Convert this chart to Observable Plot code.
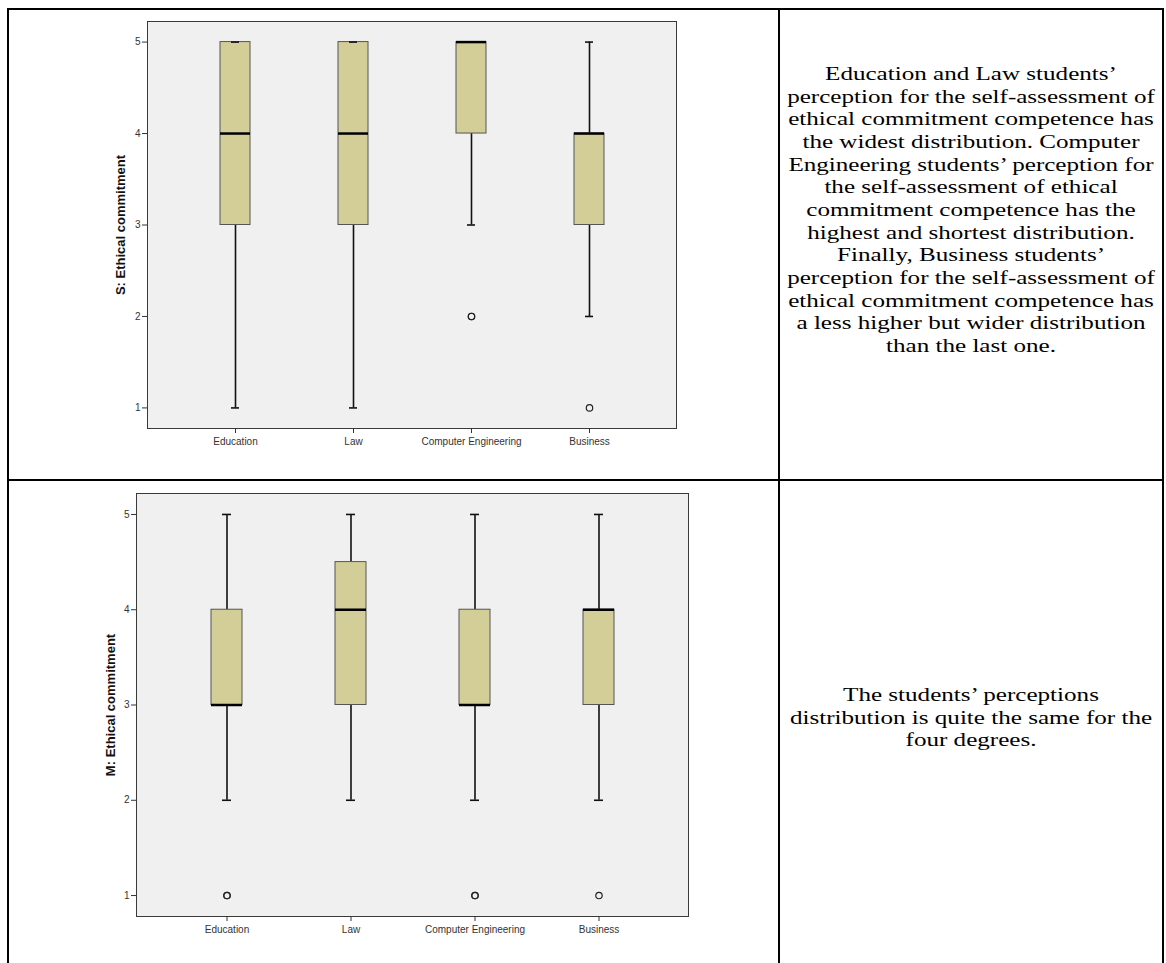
<!DOCTYPE html>
<html><head><meta charset="utf-8">
<script src="https://cdn.jsdelivr.net/npm/d3@7"></script>
<script src="https://cdn.jsdelivr.net/npm/@observablehq/plot@0.6"></script>
<style>
body{margin:0;background:#fff;width:1166px;height:963px;overflow:hidden;position:relative;}
.bline{position:absolute;background:#000;z-index:5;}
.chart{position:absolute;}
.txt{position:absolute;font-family:"Liberation Serif","Times New Roman",serif;font-size:19px;line-height:22.67px;text-align:center;color:#000;white-space:nowrap;}
.txt div{transform:scaleX(1.32);transform-origin:50% 50%;}
</style></head><body>
<div id="c1" class="chart" style="left:0;top:0"></div>
<div id="c2" class="chart" style="left:0;top:480px"></div>
<div id="t1" class="txt" style="left:780px;width:382px;top:63px"></div>
<div id="t2" class="txt" style="left:780px;width:382px;top:684px"></div>
<div class="bline" style="left:7px;top:8px;width:1157px;height:2px"></div>
<div class="bline" style="left:7px;top:8px;width:2px;height:960px"></div>
<div class="bline" style="left:1162px;top:8px;width:2px;height:960px"></div>
<div class="bline" style="left:778px;top:8px;width:2px;height:960px"></div>
<div class="bline" style="left:7px;top:479px;width:1157px;height:2px"></div>
<script>
const categories = ["Education", "Law", "Computer Engineering", "Business"];
const yTicks = [1, 2, 3, 4, 5];

// S: Ethical commitment
const sTitle = "S: Ethical commitment";
const sLow = [1, 1, 3, 2];
const sQ1 = [3, 3, 4, 3];
const sMedian = [4, 4, 5, 4];
const sQ3 = [5, 5, 5, 4];
const sHigh = [5, 5, 5, 5];
const sOutlierCats = ["Computer Engineering", "Computer Engineering", "Business"];
const sOutlierValues = [2, 2, 1];

// M: Ethical commitment
const mTitle = "M: Ethical commitment";
const mLow = [2, 2, 2, 2];
const mQ1 = [3, 3, 3, 3];
const mMedian = [3, 4, 3, 4];
const mQ3 = [4, 4.5, 4, 4];
const mHigh = [5, 5, 5, 5];
const mOutlierCats = ["Education", "Education", "Computer Engineering", "Computer Engineering", "Business"];
const mOutlierValues = [1, 1, 1, 1, 1];

const topText = [
  "Education and Law students\u2019",
  "perception for the self-assessment of",
  "ethical commitment competence has",
  "the widest distribution. Computer",
  "Engineering students\u2019 perception for",
  "the self-assessment of ethical",
  "commitment competence has the",
  "highest and shortest distribution.",
  "Finally, Business students\u2019",
  "perception for the self-assessment of",
  "ethical commitment competence has",
  "a less higher but wider distribution",
  "than the last one."
];
const bottomText = [
  "The students\u2019 perceptions",
  "distribution is quite the same for the",
  "four degrees."
];

function makeChart(o) {
  const stats = categories.map((c, i) => ({cat: c, low: o.low[i], q1: o.q1[i], median: o.median[i], q3: o.q3[i], high: o.high[i]}));
  const outliers = o.outCats.map((c, i) => ({cat: c, v: o.outVals[i]}));
  return Plot.plot({
    width: o.width, height: o.height,
    marginTop: o.mt, marginLeft: o.ml, marginRight: o.mr, marginBottom: o.mb,
    style: {fontFamily: "Liberation Sans, Arial, sans-serif", fontSize: "10px", background: "transparent", color: "#333"},
    x: {type: "band", domain: categories, paddingInner: 0.75, paddingOuter: 0.6, label: null},
    y: {domain: o.domain, label: null},
    marks: [
      Plot.frame({fill: "#f0f0f0", stroke: "#3a3a3a"}),
      Plot.axisY({ticks: yTicks, tickSize: 5, tickPadding: 2, tickFormat: d => String(d), label: null}),
      Plot.axisX({tickSize: 5, tickPadding: 4, label: null}),
      Plot.ruleX(stats, {x: "cat", y1: "low", y2: "q1", stroke: "#111", strokeWidth: 1.6}),
      Plot.ruleX(stats, {x: "cat", y1: "q3", y2: "high", stroke: "#111", strokeWidth: 1.6}),
      Plot.barY(stats, {x: "cat", y1: "q1", y2: "q3", fill: "#d3ce97", stroke: "#555", strokeWidth: 1}),
      Plot.tickY(stats, {x: "cat", y: "low", insetLeft: 11, insetRight: 11, stroke: "#111", strokeWidth: 1.6}),
      Plot.tickY(stats, {x: "cat", y: "high", insetLeft: 11, insetRight: 11, stroke: "#111", strokeWidth: 1.6}),
      Plot.tickY(stats, {x: "cat", y: "median", stroke: "#000", strokeWidth: 2.5}),
      Plot.dot(outliers, {x: "cat", y: "v", r: 3.2, stroke: "#222", fill: "none", strokeWidth: 1.2}),
      Plot.text([o.title], {text: d => d, frameAnchor: "left", textAnchor: "middle", lineAnchor: "middle", rotate: -90, dx: o.titleDx, fontWeight: "bold", fontSize: 13, fill: "#111"})
    ]
  });
}

document.getElementById("c1").append(makeChart({
  low: sLow, q1: sQ1, median: sMedian, q3: sQ3, high: sHigh,
  outCats: sOutlierCats, outVals: sOutlierValues, title: sTitle,
  width: 700, height: 470, mt: 21, ml: 147, mr: 24, mb: 42,
  domain: [0.775, 5.225], titleDx: -27
}));
document.getElementById("c2").append(makeChart({
  low: mLow, q1: mQ1, median: mMedian, q3: mQ3, high: mHigh,
  outCats: mOutlierCats, outVals: mOutlierValues, title: mTitle,
  width: 710, height: 470, mt: 13, ml: 136, mr: 22, mb: 34,
  domain: [0.78, 5.22], titleDx: -26
}));

function fillText(id, lines) {
  const el = document.getElementById(id);
  for (const l of lines) { const d = document.createElement("div"); d.textContent = l; el.append(d); }
}
fillText("t1", topText);
fillText("t2", bottomText);
</script>
</body></html>
